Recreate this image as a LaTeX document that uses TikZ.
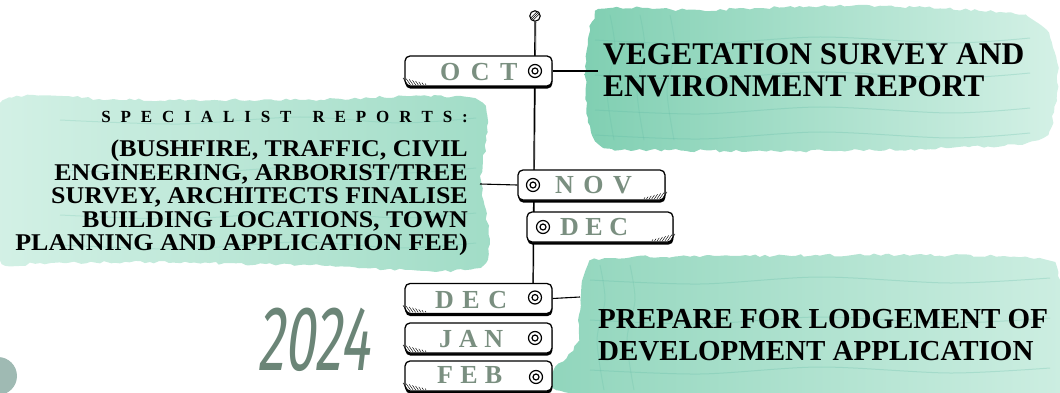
\documentclass[tikz,border=0pt]{standalone}
\usepackage{fontspec}
\setmainfont{Liberation Serif}
\newfontfamily\yearfont{Fira Sans}[FakeStretch=0.6, FakeSlant=0.12]
\newfontfamily\specfont{Liberation Serif}[FakeStretch=1.08]
\usetikzlibrary{shadows,calc,decorations.pathmorphing}
\definecolor{wcdark}{RGB}{128,207,178}
\definecolor{wcmid}{RGB}{160,220,198}
\definecolor{wclight}{RGB}{212,241,230}
\definecolor{monthc}{RGB}{122,143,128}
\definecolor{yearc}{RGB}{107,133,119}
\definecolor{dotc}{RGB}{159,186,179}
\newcommand{\lgap}{\kern 9.9pt}
\newcommand{\wgap}{\kern 21pt}
\newcommand{\mg}[1]{\kern #1pt}
\tikzset{
  monthbox/.style={draw, line width=1.3pt, fill=white, rounded corners=5pt,
    minimum width=147pt, minimum height=30pt, inner sep=0pt,
    drop shadow={shadow xshift=0.4pt, shadow yshift=-2.6pt, opacity=1, fill=black}},
  target/.style={circle, draw, line width=1.2pt, minimum size=13pt, inner sep=0pt, fill=white,
    path picture={\draw[line width=1.2pt] (path picture bounding box.center) circle (3pt);}},
  topdot/.style={circle, draw, line width=1.1pt, minimum size=10.5pt, inner sep=0pt, fill=white,
    path picture={\foreach \k in {-2.2,0,2.2}{\draw[line width=0.5pt] ([xshift=\k pt-4pt,yshift=-4pt]path picture bounding box.center) -- ++(8pt,8pt);}}},
  monthtxt/.style={anchor=base west, inner sep=0pt, text=monthc, font=\fontsize{26}{26}\selectfont\bfseries},
  headtxt/.style={anchor=base west, inner sep=0pt, font=\fontsize{31.5}{32}\selectfont\bfseries},
  preptxt/.style={anchor=base west, inner sep=0pt, font=\fontsize{29}{30}\selectfont\bfseries},
  spectxt/.style={anchor=base east, inner sep=0pt, font=\specfont\fontsize{24}{24}\selectfont\bfseries},
  conn/.style={line width=1.1pt},
  spine/.style={line width=1.2pt},
  wc/.style={decorate, decoration={random steps, segment length=5pt, amplitude=1.4pt}}
}
\newcommand{\hatchleft}[1]{\foreach \i in {0,...,7}{\draw[line width=0.45pt] ($(#1.south west)+(3.5+\i*2.6,-1.8)$) -- ++({-0.7*(7-0.8*\i)},{-(7-0.8*\i)});}}
\newcommand{\hatchright}[1]{\foreach \i in {0,...,7}{\draw[line width=0.45pt] ($(#1.south east)+(-3.5-\i*2.6,-1.8)$) -- ++({0.7*(7-0.8*\i)},{-(7-0.8*\i)});}}
\begin{document}
\begin{tikzpicture}[x=1pt,y=-1pt]
\useasboundingbox (0,0) rectangle (1060,393);
% watercolour blobs
\shade[wc, left color=wcdark, right color=wclight]
  plot[smooth cycle, tension=0.6] coordinates {(592,22) (612,8) (700,10) (850,6) (1000,12) (1042,26) (1057,62) (1054,112) (1038,140) (950,148) (800,151) (650,150) (602,147) (588,118) (586,70)};
\shade[wc, left color=wclight, right color=wcmid]
  plot[smooth cycle, tension=0.4] coordinates {(0,104) (120,100) (300,100) (478,100) (481,180) (480,267) (300,265) (150,262) (40,263) (0,258)};
\shade[wc, left color=wcdark!90, right color=wclight]
  plot[smooth cycle, tension=0.5] coordinates {(586,270) (610,258) (750,256) (900,255) (1030,258) (1058,276) (1062,393) (580,395) (578,340)};
% texture
\foreach \yy in {40,75,110,135}{\draw[wcdark!70!teal, opacity=0.25, line width=1pt] plot[smooth] coordinates {(595,\yy) (700,\yy+4) (820,\yy-3) (950,\yy+3) (1030,\yy-2)};}
\foreach \xx in {610,640,670}{\draw[wcdark!70!teal, opacity=0.2, line width=1pt] plot[smooth] coordinates {(\xx,15) (\xx+5,50) (\xx-3,90) (\xx+4,140)};}
\foreach \yy in {120,170,215,245}{\draw[wcdark!70!teal, opacity=0.2, line width=1pt] plot[smooth] coordinates {(60,\yy) (180,\yy+4) (300,\yy-3) (400,\yy+3) (476,\yy-2)};}
\foreach \yy in {280,320,370}{\draw[wcdark!70!teal, opacity=0.25, line width=1pt] plot[smooth] coordinates {(590,\yy) (700,\yy+4) (820,\yy-3) (950,\yy+3) (1050,\yy-2)};}
\foreach \xx in {600,630}{\draw[wcdark!70!teal, opacity=0.2, line width=1pt] plot[smooth] coordinates {(\xx,265) (\xx+5,300) (\xx-3,340) (\xx+4,390)};}
% bottom-left dot
\fill[dotc] (-2,376) circle (19);
% top dot and spine
\node[topdot] (tc) at (535,16) {};
\coordinate (spinebot) at (533,285);
\draw[spine] (tc.south) -- (spinebot);
\draw[line width=0.5pt] ([xshift=1pt]tc.south) -- ([xshift=0.6pt]spinebot);
% boxes
\node[monthbox] (oct) at (478.5,71) {};
\node[monthbox] (nov) at (591.5,185) {};
\node[monthbox, minimum width=146pt] (decm) at (600,227) {};
\node[monthbox] (decl) at (478.5,298.5) {};
\node[monthbox] (jan) at (478.5,338) {};
\node[monthbox] (feb) at (478.5,376) {};
\hatchleft{oct}
\hatchright{nov}
\hatchright{decm}
\hatchleft{decl}
\hatchleft{jan}
\hatchleft{feb}
% targets
\node[target] (octc) at (535,71) {};
\node[target] (novc) at (533,185) {};
\node[target] (decmc) at (543,227) {};
\node[target] (declc) at (535,297.5) {};
\node[target] (janc) at (535,338) {};
\node[target] (febc) at (536,377) {};
% month labels
\node[monthtxt] (toct) at (440,81) {O\mg{10.5}C\mg{10.5}T};
\node[monthtxt] (tnov) at (555,193) {N\mg{9.5}O\mg{9.5}V};
\node[monthtxt] (tdecm) at (560,235) {D\mg{6.5}E\mg{6.5}C};
\node[monthtxt] (tdecl) at (435,308) {D\mg{8.5}E\mg{8.5}C};
\node[monthtxt] (tjan) at (439,347) {J\mg{6.7}A\mg{6.7}N};
\node[monthtxt] (tfeb) at (437,383) {F\mg{7.2}E\mg{7.2}B};
% connectors
\coordinate (vegl) at (598,71);
\coordinate (prepl) at (580,297);
\coordinate (specr) at (480,184);
\draw[conn] (oct.east) -- (vegl);
\draw[conn] (decl.east) -- (prepl);
\draw[conn] (specr) -- (nov.west);
% headings
\node[headtxt] (veg1) at (603,65) {VEGETATION SURVEY AND};
\node[headtxt] (veg2) at (603,97) {ENVIRONMENT REPORT};
\node[preptxt] (prep1) at (598,328) {PREPARE FOR LODGEMENT OF};
\node[preptxt] (prep2) at (598,360) {DEVELOPMENT APPLICATION};
% specialist text
\node[spectxt, font=\fontsize{17}{17}\selectfont\bfseries] (sp1) at (468,123) {S\lgap P\lgap E\lgap C\lgap I\lgap A\lgap L\lgap I\lgap S\lgap T\wgap R\lgap E\lgap P\lgap O\lgap R\lgap T\lgap S\lgap :};
\node[spectxt] (sp2) at (468,157) {(BUSHFIRE, TRAFFIC, CIVIL};
\node[spectxt] (sp3) at (468,180) {ENGINEERING, ARBORIST/TREE};
\node[spectxt] (sp4) at (468,203) {SURVEY, ARCHITECTS FINALISE};
\node[spectxt] (sp5) at (468,227) {BUILDING LOCATIONS, TOWN};
\node[spectxt] (sp6) at (468,250) {PLANNING AND APPLICATION FEE)};
% year
\node[text=yearc, font=\yearfont\fontsize{92}{92}\selectfont, inner sep=0pt, text depth=0pt, anchor=base west] (year) at (257,370) {2024};
\end{tikzpicture}
\end{document}
